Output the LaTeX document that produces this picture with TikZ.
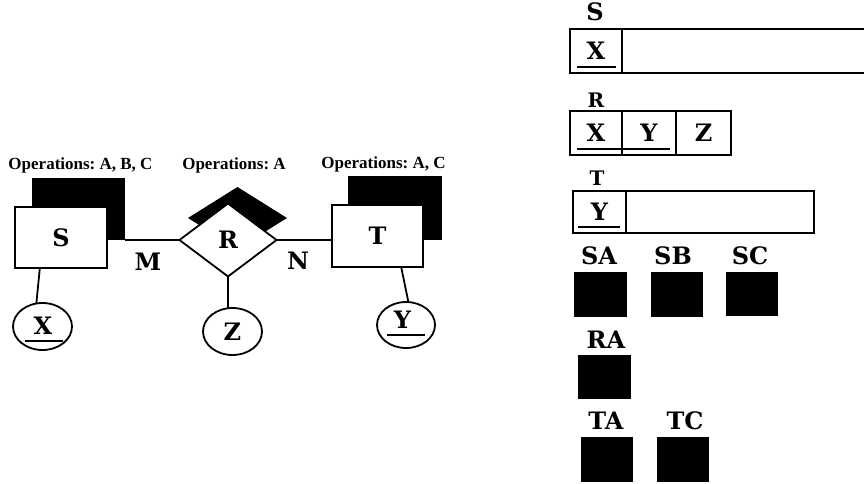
\documentclass[tikz,border=0pt]{standalone}
\usepackage{fontspec}
\setmainfont{DejaVu Serif}
\newfontfamily\opsfont{Liberation Serif}
\usetikzlibrary{shapes.geometric,calc}
\frenchspacing

\begin{document}
\begin{tikzpicture}[x=1pt,y=-1pt,
  every node/.style={inner sep=0pt, outer sep=0pt},
  line/.style={line width=1.8pt},
  keyline/.style={line width=1.4pt},
  letter/.style={font=\fontsize{24}{29}\selectfont\bfseries},
  smallletter/.style={font=\fontsize{20}{24}\selectfont\bfseries},
  ops/.style={font=\opsfont\bfseries\fontsize{17}{21}\selectfont, anchor=base},
  shadow/.style={fill=black, draw=none},
  ent/.style={draw, fill=white, line width=1.8pt, letter},
  attr/.style={draw, ellipse, line width=1.8pt, minimum width=59pt, minimum height=47pt},
  cell/.style={draw, line width=1.8pt, minimum height=44pt, anchor=north west, letter},
  opsq/.style={fill=black, minimum width=53pt, minimum height=45pt}
]
\useasboundingbox (0,0) rectangle (864,484);

% ---------- ER diagram ----------
\node[ops] (opS) at (80.5,169) {Operations: A, B, C};
\node[ops] (opR) at (234,169) {Operations: A};
\node[ops] (opT) at (383.5,168) {Operations: A, C};

\node[shadow, minimum width=93pt, minimum height=62pt] (Ssh) at (78.5,209) {};
\node[ent, minimum width=92pt, minimum height=61pt] (S) at (61,237.5) {S};

\node[shadow, diamond, minimum width=99pt, minimum height=62pt] (Rsh) at (237.5,218) {};
\node[ent, diamond, minimum width=97pt, minimum height=73pt] (R) at (228,240) {R};

\node[shadow, minimum width=94pt, minimum height=64pt] (Tsh) at (395,208) {};
\node[ent, minimum width=91pt, minimum height=62pt] (T) at (377.5,236) {T};

\draw[line] (Ssh.south east) -- (R.west);
\draw[line] (R.east) -- (R.east -| T.west);

\node[letter] (M) at (148,262) {M};
\node[letter] (N) at (298,261) {N};

% attributes
\node[attr] (Xe) at (42.5,326.5) {};
\node[letter] (Xt) at (43,326) {X};
\draw[keyline] (25,341) -- (63,341);

\node[attr] (Ze) at (232.5,331.5) {};
\node[letter] (Zt) at (232.5,332) {Z};

\node[attr, minimum width=58pt, minimum height=46pt] (Ye) at (406,325) {};
\node[letter] (Yt) at (402.5,320) {Y};
\draw[keyline] (387,335) -- (425,335);

\draw[line] ($(S.south west)!0.27!(S.south east)$) -- (Xe.105);
\draw[line] (R.south) -- (R.south |- Ze.north);
\draw[line] ($(T.south west)!0.76!(T.south east)$) -- (Ye.84);

% ---------- relations ----------
\node[letter] (Slab) at (595,12) {S};
\node[cell, minimum width=52pt] (SX) at (570,29) {X};
\node[cell, minimum width=260pt] (Srest) at (622,29) {};
\draw[keyline] (577,67) -- (616,67);

\node[smallletter] (Rlab) at (596,100) {R};
\node[cell, minimum width=52pt] (RX) at (570,111) {X};
\node[cell, minimum width=54pt] (RY) at (622,111) {Y};
\node[cell, minimum width=55pt] (RZ) at (676,111) {Z};
\draw[keyline] (577,149) -- (670,149);

\node[smallletter] (Tlab) at (597,178) {T};
\node[cell, minimum width=53pt, minimum height=42pt] (TY) at (573,191) {Y};
\node[cell, minimum width=188pt, minimum height=42pt] (Trest) at (626,191) {};
\draw[keyline] (578,227) -- (620,227);

% ---------- operation boxes ----------
\node[letter] (SAl) at (599,256) {SA};
\node[letter] (SBl) at (673,256) {SB};
\node[letter] (SCl) at (750,256) {SC};
\node[opsq] (SA) at (600.5,294.5) {};
\node[opsq, minimum width=52pt] (SB) at (677,294.5) {};
\node[opsq, minimum width=52pt, minimum height=44pt] (SC) at (752,294) {};

\node[letter] (RAl) at (606,340) {RA};
\node[opsq, minimum height=44pt] (RA) at (604.5,377) {};

\node[letter] (TAl) at (606,421) {TA};
\node[letter] (TCl) at (685,421) {TC};
\node[opsq, minimum width=52pt] (TA) at (607,459.5) {};
\node[opsq, minimum width=52pt] (TC) at (683,459.5) {};
\end{tikzpicture}
\end{document}
